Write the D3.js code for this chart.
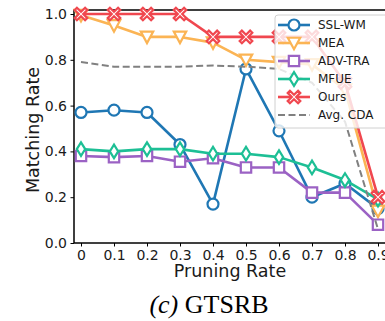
<!DOCTYPE html>
<html>
<head>
<meta charset="utf-8">
<script src="https://cdn.jsdelivr.net/npm/d3@7"></script>
<style>
  html, body { margin: 0; padding: 0; background: #fff; }
  svg { display: block; font-family: 'DejaVu Sans', sans-serif; }
</style>
</head>
<body>
<div id="chart"></div>
<script>
const pruningRates = [0, 0.1, 0.2, 0.3, 0.4, 0.5, 0.6, 0.7, 0.8, 0.9];
const xTickLabels = ['0', '0.1', '0.2', '0.3', '0.4', '0.5', '0.6', '0.7', '0.8', '0.9'];
const yTicks = [0, 0.2, 0.4, 0.6, 0.8, 1.0];

const sslWm = [0.57, 0.58, 0.57, 0.43, 0.17, 0.76, 0.49, 0.20, 0.26, 0.15];
const mea = [0.995, 0.95, 0.90, 0.90, 0.875, 0.80, 0.79, 0.78, 0.67, 0.14];
const advTra = [0.38, 0.375, 0.38, 0.355, 0.37, 0.33, 0.33, 0.22, 0.22, 0.08];
const mfue = [0.41, 0.40, 0.41, 0.41, 0.39, 0.39, 0.375, 0.33, 0.275, 0.19];
const ours = [1.0, 1.0, 1.0, 1.0, 0.90, 0.90, 0.90, 0.90, 0.70, 0.20];
const avgCda = [0.79, 0.77, 0.77, 0.77, 0.775, 0.77, 0.76, 0.70, 0.53, 0.06];

const series = [
  { name: 'SSL-WM', values: sslWm, color: '#1f77b4', marker: 'circle' },
  { name: 'MEA', values: mea, color: '#fbb454', marker: 'triangleDown' },
  { name: 'ADV-TRA', values: advTra, color: '#9b62c4', marker: 'square' },
  { name: 'MFUE', values: mfue, color: '#1dbf95', marker: 'diamond' },
  { name: 'Ours', values: ours, color: '#f0474f', marker: 'x' },
  { name: 'Avg. CDA', values: avgCda, color: '#808080', marker: null, dashed: true }
];

const width = 385;
const height = 321;
const plot = { left: 74, right: 386, top: 10, bottom: 243 };

const svg = d3.select('#chart')
  .append('svg')
  .attr('width', width)
  .attr('height', height);

// 0 sits at x=81 and 0.9 at x=378 in the reference
const pxPerUnit = (378 - 81) / 0.9;
const scaleX = d3.scaleLinear()
  .domain([-(81 - plot.left) / pxPerUnit, 0.9 + (plot.right - 378) / pxPerUnit])
  .range([plot.left, plot.right]);

const scaleY = d3.scaleLinear()
  .domain([0, 1.0175])
  .range([plot.bottom, plot.top]);

const markerPath = (type) => {
  if (type === 'circle') {
    return d3.symbol().type(d3.symbolCircle).size(Math.PI * 5.5 * 5.5)();
  }
  if (type === 'triangleDown') {
    const s = 6.2;
    return `M0,${s}L${-s},${-s * 0.85}L${s},${-s * 0.85}Z`;
  }
  if (type === 'square') {
    const s = 5.2;
    return `M${-s},${-s}H${s}V${s}H${-s}Z`;
  }
  if (type === 'diamond') {
    const w = 4.2;
    const h = 6.8;
    return `M0,${-h}L${w},0L0,${h}L${-w},0Z`;
  }
  if (type === 'x') {
    const s = 6.3;
    const a = 2.2;
    const pts = [
      [a, 0], [s, s - a], [s - a, s], [0, a], [-(s - a), s], [-s, s - a],
      [-a, 0], [-s, -(s - a)], [-(s - a), -s], [0, -a], [s - a, -s], [s, -(s - a)]
    ];
    return 'M' + pts.map(p => p.join(',')).join('L') + 'Z';
  }
  return null;
};

// axes
const xAxis = d3.axisBottom(scaleX)
  .tickValues(pruningRates)
  .tickFormat((d, i) => xTickLabels[i])
  .tickSize(3.5)
  .tickPadding(3.5);

const yAxis = d3.axisLeft(scaleY)
  .tickValues(yTicks)
  .tickFormat(d3.format('.1f'))
  .tickSize(3.5)
  .tickPadding(3.5);

const gx = svg.append('g')
  .attr('transform', `translate(0, ${plot.bottom})`)
  .call(xAxis);

const gy = svg.append('g')
  .attr('transform', `translate(${plot.left}, 0)`)
  .call(yAxis);

[gx, gy].forEach(g => {
  g.select('.domain').remove();
  g.selectAll('.tick line').attr('stroke', '#000').attr('stroke-width', 1);
  g.selectAll('.tick text')
    .attr('fill', '#1a1a1a')
    .style('font-size', '14px')
    .style('font-family', "'DejaVu Sans', sans-serif");
});

// spines
svg.append('rect')
  .attr('x', plot.left)
  .attr('y', plot.top)
  .attr('width', plot.right - plot.left)
  .attr('height', plot.bottom - plot.top)
  .attr('fill', 'none')
  .attr('stroke', '#000')
  .attr('stroke-width', 1.5);

// lines
const line = d3.line()
  .x((d, i) => scaleX(pruningRates[i]))
  .y(d => scaleY(d));

series.forEach(s => {
  svg.append('path')
    .datum(s.values)
    .attr('fill', 'none')
    .attr('stroke', s.color)
    .attr('stroke-width', s.dashed ? 2 : 2.6)
    .attr('stroke-dasharray', s.dashed ? '7,3.5' : null)
    .attr('stroke-linejoin', 'round')
    .attr('d', line);

  if (s.marker) {
    svg.append('g')
      .selectAll('path')
      .data(s.values)
      .join('path')
      .attr('transform', (d, i) => `translate(${scaleX(pruningRates[i])}, ${scaleY(d)})`)
      .attr('d', markerPath(s.marker))
      .attr('fill', '#fff')
      .attr('stroke', s.color)
      .attr('stroke-width', 2.2)
      .attr('stroke-linejoin', 'miter');
  }
});

// legend
const legend = svg.append('g').attr('transform', 'translate(275, 15)');

legend.append('rect')
  .attr('width', 125)
  .attr('height', 113)
  .attr('rx', 3)
  .attr('fill', '#fff')
  .attr('fill-opacity', 0.8)
  .attr('stroke', '#d0d0d0')
  .attr('stroke-width', 1);

series.forEach((s, i) => {
  const y = 10 + i * 18;
  const item = legend.append('g').attr('transform', `translate(0, ${y})`);

  item.append('line')
    .attr('x1', 3)
    .attr('x2', 35)
    .attr('stroke', s.color)
    .attr('stroke-width', s.dashed ? 2 : 2.6)
    .attr('stroke-dasharray', s.dashed ? '7,3.5' : null);

  if (s.marker) {
    item.append('path')
      .attr('transform', 'translate(19, 0)')
      .attr('d', markerPath(s.marker))
      .attr('fill', '#fff')
      .attr('stroke', s.color)
      .attr('stroke-width', 2.2);
  }

  item.append('text')
    .attr('x', 43)
    .attr('dy', '0.35em')
    .attr('fill', '#1a1a1a')
    .style('font-size', '12px')
    .text(s.name);
});

// axis titles
svg.append('text')
  .attr('x', 230)
  .attr('y', 277)
  .attr('text-anchor', 'middle')
  .attr('fill', '#1a1a1a')
  .style('font-size', '17.5px')
  .text('Pruning Rate');

svg.append('text')
  .attr('transform', 'translate(39, 130) rotate(-90)')
  .attr('text-anchor', 'middle')
  .attr('fill', '#1a1a1a')
  .style('font-size', '17.5px')
  .text('Matching Rate');

// caption
const caption = svg.append('text')
  .attr('x', 209)
  .attr('y', 313)
  .attr('text-anchor', 'middle')
  .attr('fill', '#000')
  .style('font-family', "'Liberation Serif', 'DejaVu Serif', serif")
  .style('font-size', '26px');

caption.append('tspan').style('font-style', 'italic').text('(c)');
caption.append('tspan').text(' GTSRB');
</script>
</body>
</html>
